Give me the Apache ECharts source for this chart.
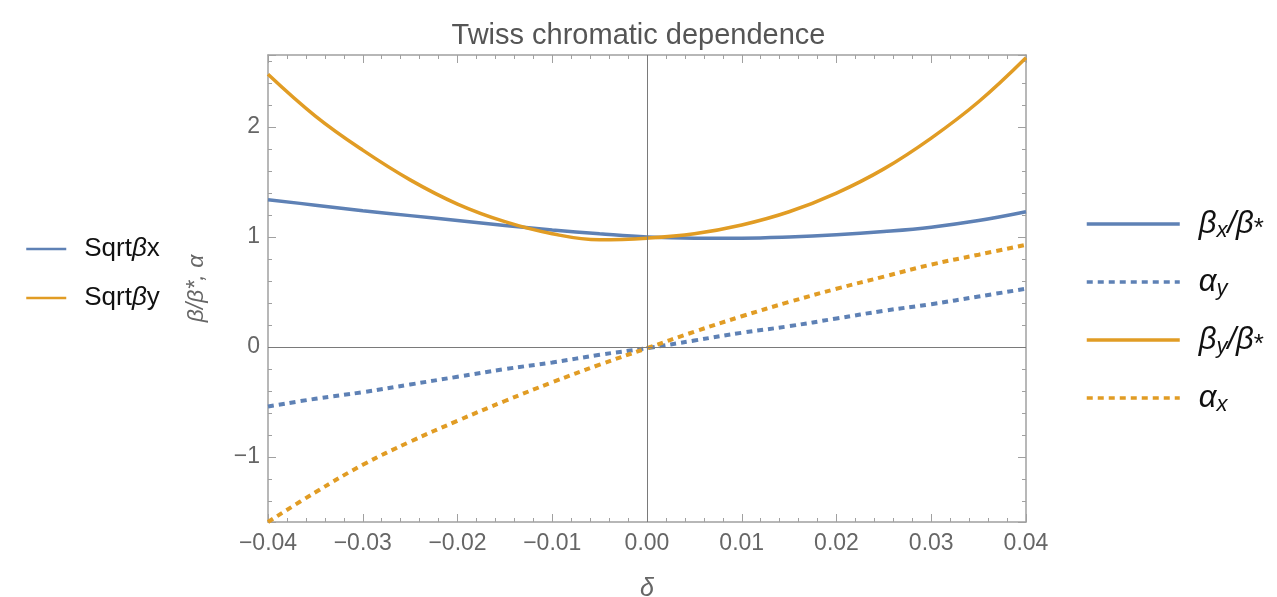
<!DOCTYPE html>
<html>
<head>
<meta charset="utf-8">
<script src="https://cdn.jsdelivr.net/npm/echarts@6/dist/echarts.min.js"></script>
<style>
  html, body { margin: 0; padding: 0; background: #fff; }
  #chart { width: 1277px; height: 597px; }
</style>
</head>
<body>
<div id="chart"></div>
<script>
// momentum offset
const delta = [-0.04, -0.035, -0.03, -0.025, -0.02, -0.015, -0.01, -0.005, 0,
  0.005, 0.01, 0.015, 0.02, 0.025, 0.03, 0.035, 0.04]

// values
const betaX = [1.34, 1.29, 1.24, 1.195, 1.15, 1.105, 1.065, 1.03, 1.00,
  0.99, 0.99, 1.00, 1.02, 1.05, 1.09, 1.15, 1.23]
const alphaY = [-0.54, -0.47, -0.41, -0.34, -0.27, -0.20, -0.14, -0.07, -0.01,
  0.06, 0.13, 0.19, 0.26, 0.33, 0.39, 0.46, 0.53]
const betaY = [2.48, 2.10, 1.79, 1.52, 1.30, 1.14, 1.03, 0.975, 0.99,
  1.03, 1.11, 1.23, 1.40, 1.62, 1.90, 2.23, 2.63]
const alphaX = [-1.59, -1.32, -1.07, -0.86, -0.67, -0.49, -0.32, -0.16, -0.01,
  0.14, 0.28, 0.41, 0.53, 0.64, 0.75, 0.84, 0.93]

const xTicks = { min: -0.04, max: 0.04, step: 0.01 }
const yRange = { min: -1.59, max: 2.655 }

const BLUE = '#5e81b5'
const ORANGE = '#e19c24'
const FRAME = '#a0a0a0'
const LABEL = '#666666'

const pairs = ys => delta.map((d, i) => [d, ys[i]])
const minus = s => s.replace('-', '\u2212')

const legendRich = {
  'Sqrtβx': 'Sqrt{i|β}x',
  'Sqrtβy': 'Sqrt{i|β}y',
  'βx/β*': '{m|β}{s|x}{m|/β}{t|*}',
  'αy': '{m|α}{s|y}',
  'βy/β*': '{m|β}{s|y}{m|/β}{t|*}',
  'αx': '{m|α}{s|x}'
}

const frameAxis = (pos, isX) => ({
  type: 'value',
  position: pos,
  min: isX ? xTicks.min : yRange.min,
  max: isX ? xTicks.max : yRange.max,
  interval: isX ? xTicks.step : undefined,
  splitNumber: isX ? undefined : 4,
  axisLine: { show: true, onZero: false, lineStyle: { color: FRAME, width: 1.5 } },
  axisTick: { show: true, inside: true, length: 8, lineStyle: { color: FRAME } },
  minorTick: { show: true, splitNumber: 5, length: 4, lineStyle: { color: FRAME } },
  splitLine: { show: false },
  axisLabel: { show: false }
})

const chart = echarts.init(document.getElementById('chart'))

const solid = (name, color, ys) => ({
  name, type: 'line', data: pairs(ys), smooth: 0.4, symbol: 'none', z: 3,
  lineStyle: { color, width: 3.5 }, itemStyle: { color }
})
const dotted = (name, color, ys) => ({
  name, type: 'line', data: pairs(ys), smooth: 0.4, symbol: 'none', z: 3,
  lineStyle: { color, width: 4, type: [6, 5] }, itemStyle: { color }
})

chart.setOption({
  animation: false,
  title: {
    text: 'Twiss chromatic dependence',
    left: 'center',
    top: 16,
    textStyle: { fontFamily: 'Liberation Sans', fontSize: 29, fontWeight: 'normal', color: '#555' }
  },
  grid: { left: 268, right: 251, top: 55, bottom: 75, outerBoundsMode: 'none', containLabel: false },
  legend: [
    {
      data: ['Sqrtβx', 'Sqrtβy'],
      orient: 'vertical',
      left: 25,
      top: 236,
      padding: 0,
      itemWidth: 40,
      itemHeight: 14,
      itemGap: 23,
      selectedMode: false,
      itemStyle: { opacity: 0 },
      lineStyle: { width: 2.5 },
      formatter: n => legendRich[n],
      textStyle: {
        fontFamily: 'Liberation Sans', fontSize: 26, color: '#111', padding: [0, 0, 0, 13],
        rich: {
          i: { fontFamily: 'Liberation Sans', fontStyle: 'italic', fontSize: 26, color: '#111' }
        }
      }
    },
    {
      data: ['βx/β*', 'αy', 'βy/β*', 'αx'],
      orient: 'vertical',
      left: 1085,
      top: 206,
      padding: 0,
      itemWidth: 93,
      itemHeight: 14,
      itemGap: 22,
      selectedMode: false,
      itemStyle: { opacity: 0 },
      lineStyle: { width: 3.5 },
      formatter: n => legendRich[n],
      textStyle: {
        color: '#111',
        padding: [0, 0, 0, 14],
        rich: {
          m: { fontFamily: 'Liberation Sans', fontStyle: 'italic', fontSize: 31, lineHeight: 34 },
          s: { fontFamily: 'Liberation Sans', fontStyle: 'italic', fontSize: 22, lineHeight: 34, padding: [14, 0, 0, 0] },
          t: { fontFamily: 'Liberation Sans', fontSize: 26, lineHeight: 34, padding: [10, 0, 0, 0] }
        }
      }
    }
  ],
  xAxis: [
    Object.assign(frameAxis('bottom', true), {
      axisLabel: {
        show: true, margin: 10, color: LABEL, fontFamily: 'Liberation Sans', fontSize: 23,
        formatter: v => minus((Math.abs(v) < 1e-9 ? 0 : v).toFixed(2))
      },
      name: 'δ',
      nameLocation: 'middle',
      nameGap: 55,
      nameTextStyle: { color: LABEL, fontFamily: 'Liberation Sans', fontStyle: 'italic', fontSize: 25 }
    }),
    frameAxis('top', true)
  ],
  yAxis: [
    Object.assign(frameAxis('left', false), {
      axisLabel: {
        show: true, margin: 8, color: LABEL, fontFamily: 'Liberation Sans', fontSize: 23,
        showMinLabel: false, showMaxLabel: false,
        formatter: v => Math.abs(v - Math.round(v)) < 1e-6 ? minus(String(Math.round(v))) : ''
      },
      name: 'β/β*, α',
      nameLocation: 'middle',
      nameGap: 60,
      nameTextStyle: { color: LABEL, fontFamily: 'Liberation Sans', fontStyle: 'italic', fontSize: 23 }
    }),
    frameAxis('right', false)
  ],
  series: [
    // zero axes drawn through the origin
    {
      type: 'line', data: [], silent: true, z: 1,
      markLine: {
        silent: true, symbol: 'none', animation: false,
        label: { show: false },
        lineStyle: { color: '#7a7a7a', width: 1, type: 'solid' },
        data: [{ xAxis: 0 }, { yAxis: 0 }]
      }
    },
    // legend-only entries
    { name: 'Sqrtβx', type: 'line', data: [], symbol: 'none', lineStyle: { color: BLUE, width: 2.5 }, itemStyle: { color: BLUE } },
    { name: 'Sqrtβy', type: 'line', data: [], symbol: 'none', lineStyle: { color: ORANGE, width: 2.5 }, itemStyle: { color: ORANGE } },
    solid('βx/β*', BLUE, betaX),
    dotted('αy', BLUE, alphaY),
    solid('βy/β*', ORANGE, betaY),
    dotted('αx', ORANGE, alphaX)
  ]
})
</script>
</body>
</html>
